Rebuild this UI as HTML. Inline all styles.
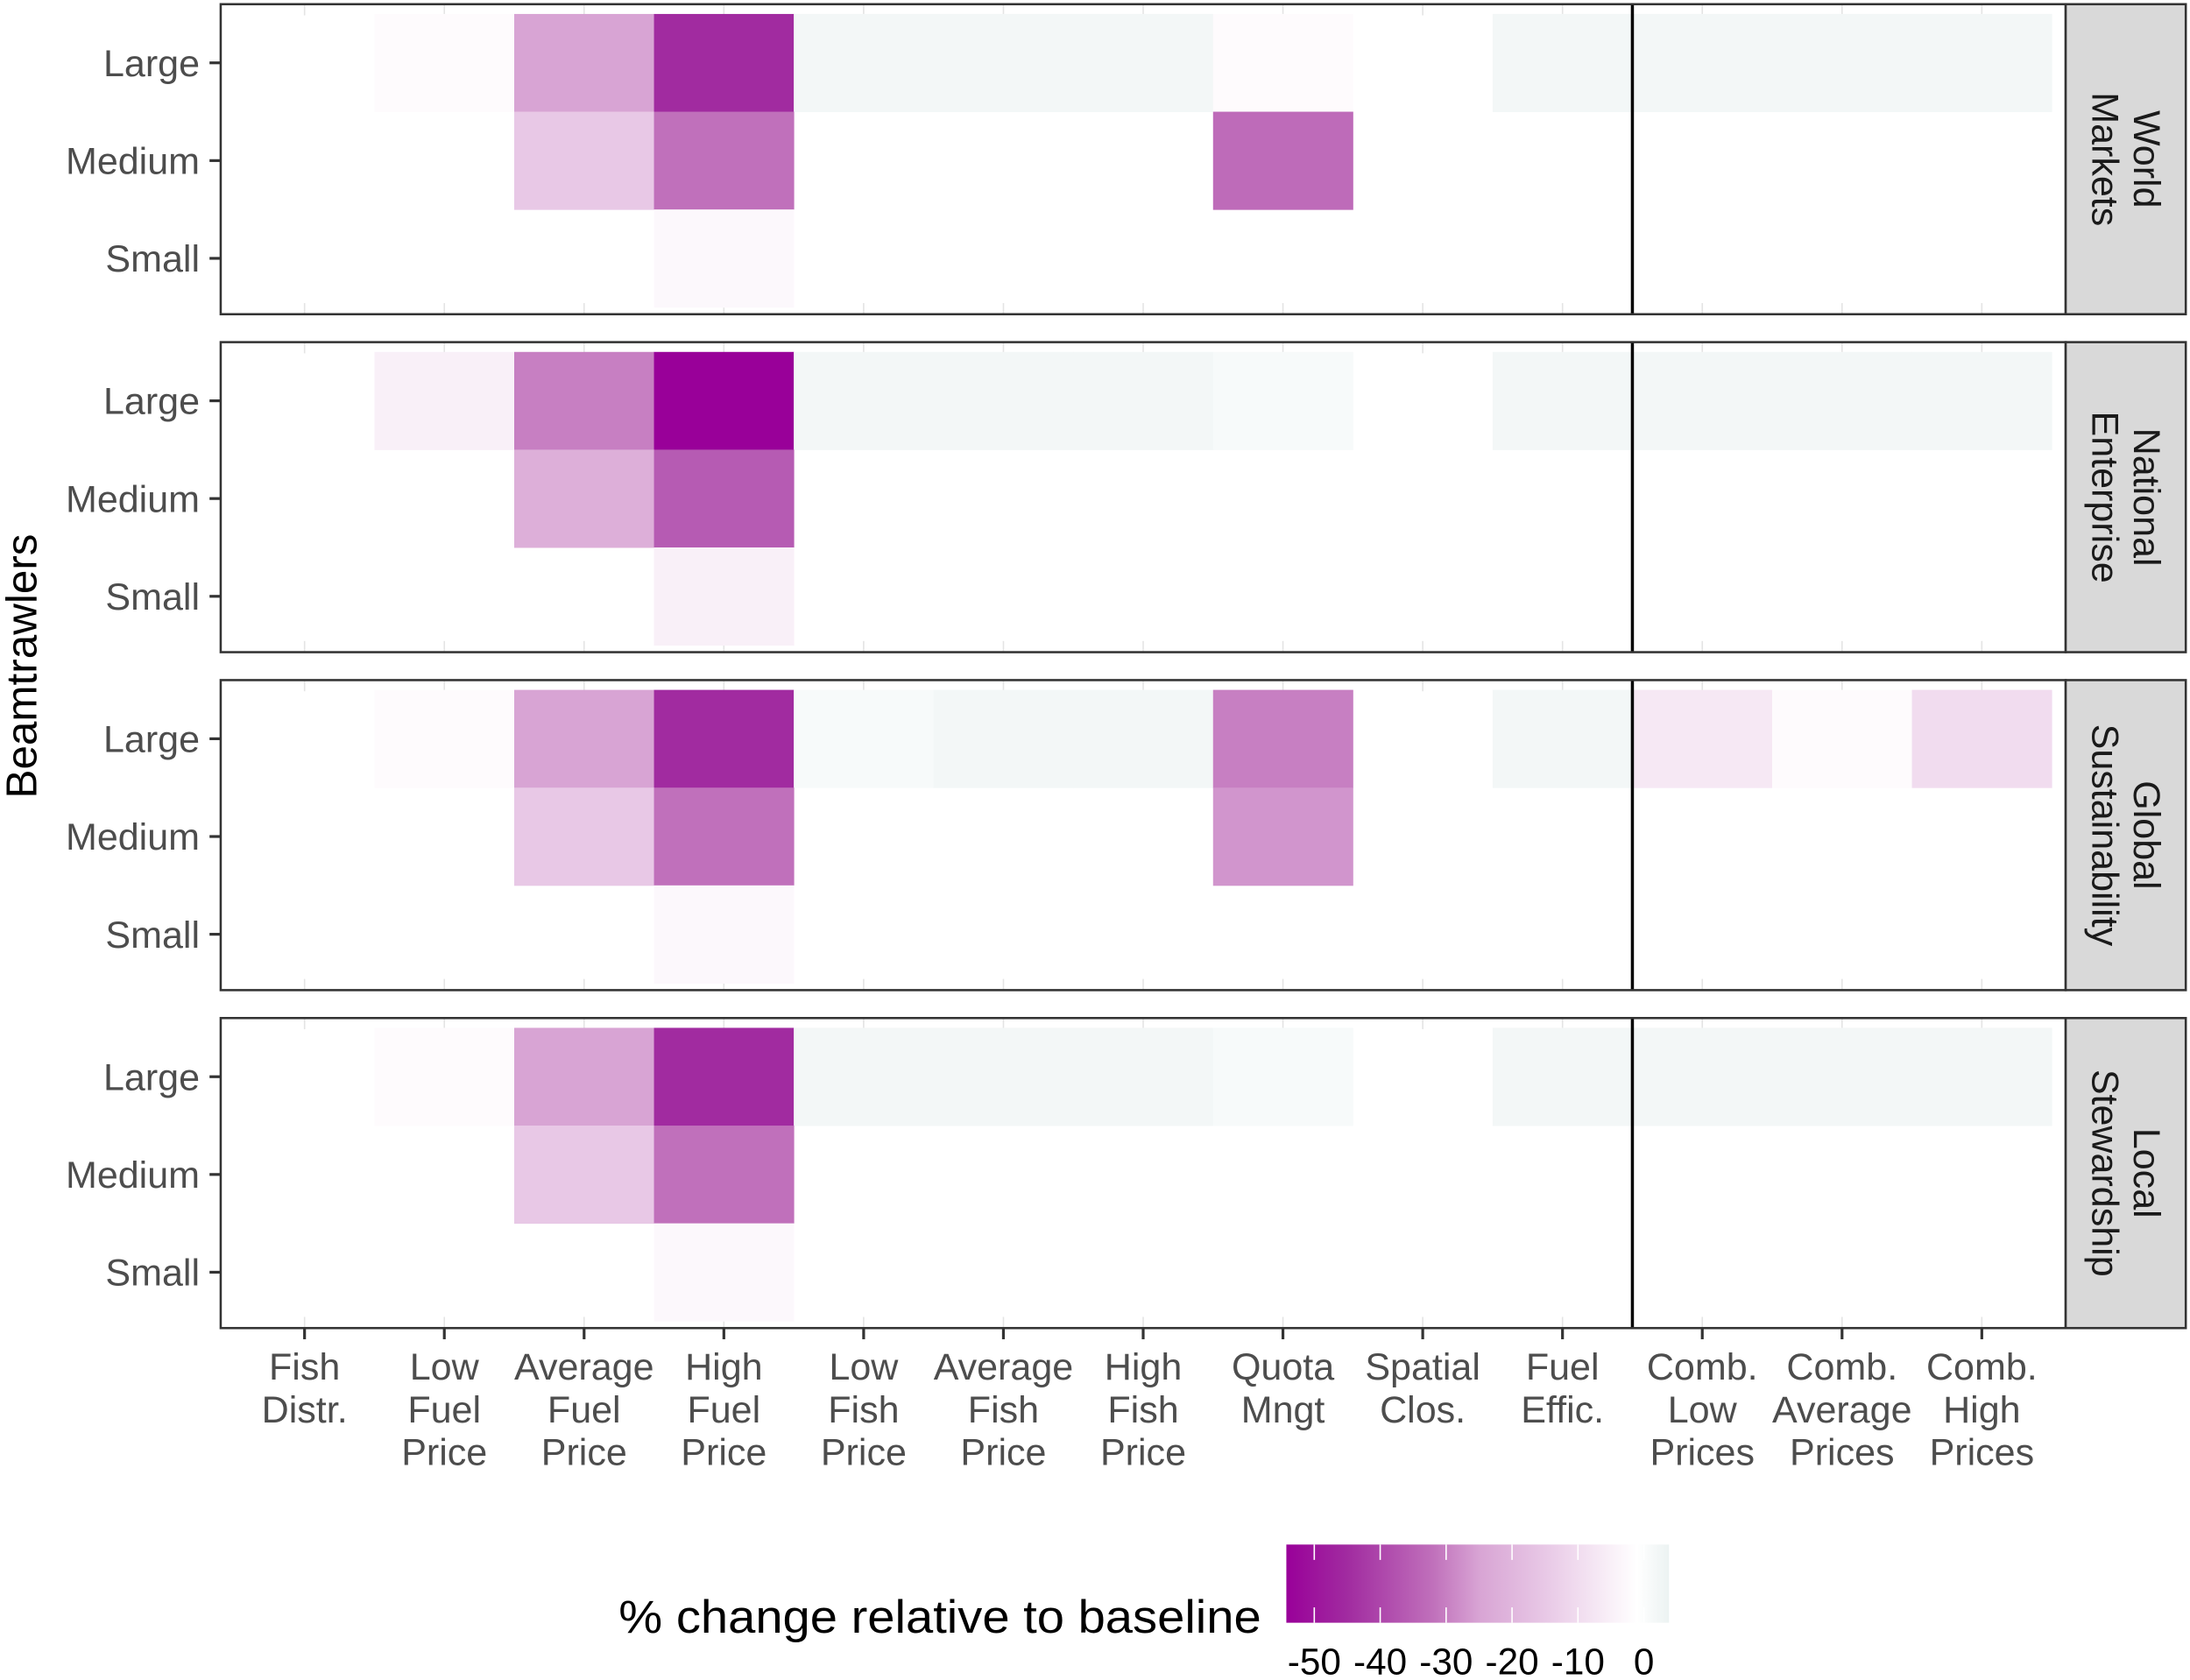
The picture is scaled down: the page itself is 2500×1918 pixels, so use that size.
<!DOCTYPE html>
<html><head><meta charset="utf-8">
<style>
html,body{margin:0;padding:0;background:#fff;}
svg{display:block;}
text{font-family:"Liberation Sans",Arial,sans-serif;}
</style></head>
<body>
<svg id="chart" width="2500" height="1918" viewBox="0 0 1568 1203" xmlns="http://www.w3.org/2000/svg">
<defs>
<linearGradient id="lg" x1="0" x2="1" y1="0" y2="0"></linearGradient>
</defs>
<g id="panels"></g>
<text transform="translate(26,477) rotate(-90)" text-anchor="middle" font-size="31" fill="#000">Beamtrawlers</text>
<g id="xlabels"></g>
<g>
<text x="443" y="1169" textLength="460" lengthAdjust="spacingAndGlyphs" font-size="33" fill="#000">% change relative to baseline</text>
<rect x="921" y="1106" width="274" height="56" fill="url(#lg)"/>
<g id="legticks"></g>
</g>
</svg>
<script>
const categories = ["Fish\nDistr.","Low\nFuel\nPrice","Average\nFuel\nPrice","High\nFuel\nPrice","Low\nFish\nPrice","Average\nFish\nPrice","High\nFish\nPrice","Quota\nMngt","Spatial\nClos.","Fuel\nEffic.","Comb.\nLow\nPrices","Comb.\nAverage\nPrices","Comb.\nHigh\nPrices"];
const sizes = ["Large","Medium","Small"];
const scenarios = ["World\nMarkets","National\nEnterprise","Global\nSustainability","Local\nStewardship"];
const worldMarkets = [
 [null,-2,-25,-45,2,2,2,-2,null,2,2,2,2],
 [null,null,-15,-32,null,null,null,-33,null,null,null,null,null],
 [null,null,null,-3,null,null,null,null,null,null,null,null,null]];
const nationalEnterprise = [
 [null,-5,-30,-55,2,2,2,1,null,2,2,2,2],
 [null,null,-22,-36,null,null,null,null,null,null,null,null,null],
 [null,null,null,-5,null,null,null,null,null,null,null,null,null]];
const globalSustainability = [
 [null,-2,-25,-45,1,2,2,-30,null,2,-7,-2,-10],
 [null,null,-15,-32,null,null,null,-27,null,null,null,null,null],
 [null,null,null,-3,null,null,null,null,null,null,null,null,null]];
const localStewardship = [
 [null,-2,-25,-45,2,2,2,1,null,2,2,2,2],
 [null,null,-15,-32,null,null,null,null,null,null,null,null,null],
 [null,null,null,-3,null,null,null,null,null,null,null,null,null]];
const legendTicks = [-50,-40,-30,-20,-10,0];
const panelData = [worldMarkets,nationalEnterprise,globalSustainability,localStewardship];

const stopVals = [-54.2,-45,-32,-25,-15,-5,-1,2,3.8];
const stopCols = [[153,0,153],[161,43,160],[192,112,187],[216,164,212],[232,200,230],[249,240,248],[255,255,255],[243,247,247],[236,243,242]];

const NS="http://www.w3.org/2000/svg";
function mk(t,a,p){const e=document.createElementNS(NS,t);for(const k in a)e.setAttribute(k,a[k]);p.appendChild(e);return e;}
function color(v){
 if(v<=stopVals[0])return `rgb(${stopCols[0].join(',')})`;
 for(let k=0;k<stopVals.length-1;k++){
  if(v<=stopVals[k+1]){const t=(v-stopVals[k])/(stopVals[k+1]-stopVals[k]);
   const c=stopCols[k].map((a,q)=>Math.round(a+(stopCols[k+1][q]-a)*t));return `rgb(${c.join(',')})`;}
 }
 return `rgb(${stopCols[stopCols.length-1].join(',')})`;
}
const lg=document.getElementById('lg');
stopVals.forEach((v,k)=>{mk('stop',{offset:(v-stopVals[0])/(stopVals[stopVals.length-1]-stopVals[0]),'stop-color':`rgb(${stopCols[k].join(',')})`},lg);});

const PL=158,PR=1479,SR=1565,PH=222,PTOP=[3,245,487,729];
const colW=(PR-PL-20)/categories.length;
const xC=i=>PL+10+colW*(i+0.5);
const rowH=70;
const yC=(p,j)=>PTOP[p]+7+rowH*(j+0.5);
const lx=v=>941+(v+50)*4.72;
const panels=document.getElementById('panels');
panelData.forEach((d,p)=>{
 const g=mk('g',{},panels);
 
 
 const top=PTOP[p];
 mk('rect',{x:PL,y:top,width:PR-PL,height:PH,fill:'#fff'},g);
 categories.forEach((c,i)=>{
  mk('line',{x1:xC(i),x2:xC(i),y1:top,y2:top+8,stroke:'#e4e4e4','stroke-width':1},g);
  mk('line',{x1:xC(i),x2:xC(i),y1:top+PH-8,y2:top+PH,stroke:'#e4e4e4','stroke-width':1},g);
 });
 d.forEach((row,j)=>row.forEach((v,i)=>{
  if(v===null)return;
  const r=mk('rect',{x:xC(i)-colW/2,y:yC(p,j)-rowH/2,width:colW+0.3,height:rowH+0.3,fill:color(v)},g);
  
  
 }));
 const dx=(xC(9)+xC(10))/2;
 mk('line',{x1:dx,x2:dx,y1:top,y2:top+PH,stroke:'#000','stroke-width':2.2},g);
 mk('rect',{x:PL,y:top,width:PR-PL,height:PH,fill:'none',stroke:'#333','stroke-width':1.6},g);
 const st=mk('rect',{x:PR,y:top,width:SR-PR,height:PH,fill:'#d9d9d9',stroke:'#333','stroke-width':1.6},g);
 
 
 const lines=scenarios[p].split('\n');
 const cx=(PR+SR)/2, cy=top+PH/2;
 const t=mk('text',{transform:`translate(${cx},${cy}) rotate(90)`,'text-anchor':'middle','font-size':27,fill:'#1a1a1a'},g);
 
 
 lines.forEach((l,k)=>{const ts=mk('tspan',{x:0,y:(k-(lines.length-1)/2)*30+9},t);ts.textContent=l;});
 sizes.forEach((s,j)=>{
  const y=yC(p,j);
  mk('line',{x1:PL-8,x2:PL,y1:y,y2:y,stroke:'#333','stroke-width':2},g);
  const tx=mk('text',{x:PL-15,y:y+9.5,'text-anchor':'end','font-size':27,fill:'#4d4d4d'},g);
  
  
  tx.textContent=s;
 });
});
const xl=document.getElementById('xlabels');
categories.forEach((c,i)=>{
 const x=xC(i), b=PTOP[3]+PH;
 mk('line',{x1:x,x2:x,y1:b,y2:b+8,stroke:'#333','stroke-width':2},xl);
 const t=mk('text',{x:x,'text-anchor':'middle','font-size':27,fill:'#4d4d4d'},xl);
 
 
 c.split('\n').forEach((l,k)=>{const ts=mk('tspan',{x:x,y:988+k*30.5},t);ts.textContent=l;});
});
const lt=document.getElementById('legticks');
legendTicks.forEach(v=>{
 const x=lx(v);
 mk('line',{x1:x,x2:x,y1:1106,y2:1117,stroke:'#fff','stroke-width':1},lt);
 mk('line',{x1:x,x2:x,y1:1151,y2:1162,stroke:'#fff','stroke-width':1},lt);
 const t=mk('text',{x:x,y:1199,'text-anchor':'middle','font-size':26.5,fill:'#000'},lt);
 
 
 t.textContent=v;
});
</script>
</body></html>
